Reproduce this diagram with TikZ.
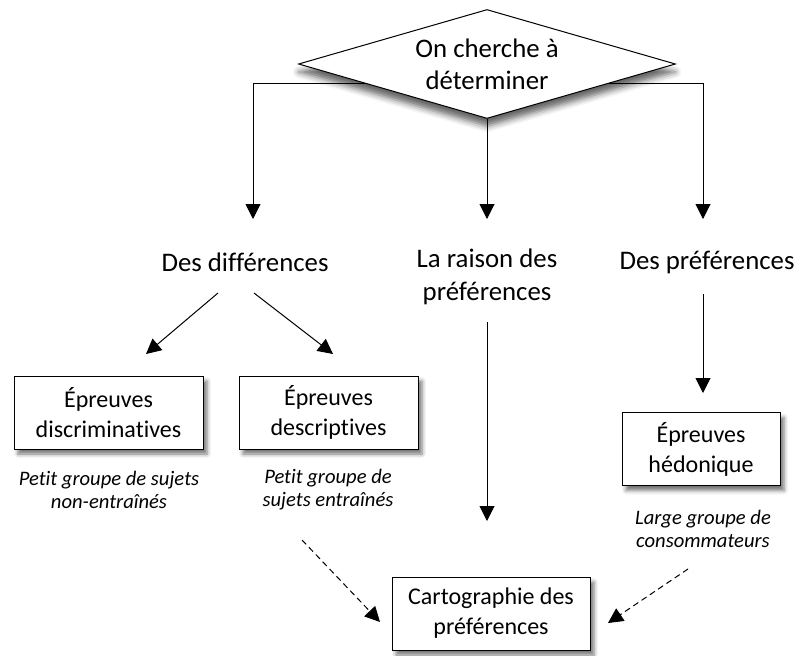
\documentclass[tikz,border=0pt]{standalone}
\usepackage{fontspec}
\setmainfont{Carlito}[Ligatures={NoCommon}]
\usetikzlibrary{shapes.geometric,arrows.meta,shadows.blur}
\begin{document}
\begin{tikzpicture}[x=1pt,y=-1pt,
  conn/.style={line width=1pt},
  arr/.style={line width=1pt,-{Triangle[width=15pt,length=15pt]}},
  darr/.style={line width=1pt,dash pattern=on 6pt off 4pt,-{Triangle[width=15pt,length=15pt]}},
  lbl/.style={align=center,inner sep=0pt,font=\fontsize{26.8}{33}\selectfont},
  boxnode/.style={draw,line width=1pt,fill=white,align=center,minimum height=73pt,inner sep=0pt,
    font=\fontsize{24}{30}\selectfont,
    blur shadow={shadow xshift=4pt,shadow yshift=-5pt,shadow blur radius=4pt,shadow opacity=55}},
  note/.style={align=center,inner sep=0pt,font=\fontsize{20.6}{23}\selectfont\itshape}]
\useasboundingbox (0,0) rectangle (796,656);
% branch coordinates
\coordinate (jL) at (253,83);
\coordinate (jR) at (703,83);
\draw[conn] (jL) -- (jR);
% decision
\node[draw,line width=1pt,fill=white,shape=diamond,aspect=3.46,minimum width=377pt,minimum height=109pt,inner sep=0pt,
  align=center,font=\fontsize{26.8}{32}\selectfont,
  blur shadow={shadow xshift=0pt,shadow yshift=-8pt,shadow blur radius=6pt,shadow opacity=60}]
  (top) at (487,64) {On cherche à\\déterminer};
% labels
\node[lbl] (difL) at (245,262) {Des différences};
\node[lbl] (rais) at (487,277) {La raison des\\préférences};
\node[lbl] (prefL) at (707,262) {Des préférences};
% boxes
\node[boxnode,minimum width=189pt] (disc) at (108.5,412.5) {Épreuves\\discriminatives};
\node[boxnode,minimum width=179pt] (desc) at (328.5,412.5) {Épreuves\\descriptives};
\node[boxnode,minimum width=158pt] (hedo) at (701,449) {Épreuves\\hédonique};
\node[boxnode,minimum width=198pt] (carto) at (491,613.5) {Cartographie des\\préférences};
% notes
\node[note] (n1) at (109,490) {Petit groupe de sujets\\non-entraînés};
\node[note] (n2) at (328,490) {Petit groupe de\\sujets entraînés};
\node[note] (n3) at (703,529) {Large groupe de\\consommateurs};
% arrow ends
\coordinate (tL) at (253,219);
\coordinate (tM) at (487,219);
\coordinate (tR) at (703,219);
\draw[arr] (jL) -- (tL);
\draw[arr] (top.south) -- (tM);
\draw[arr] (jR) -- (tR);
\coordinate (d1s) at (218,293);
\coordinate (d1e) at (146,354);
\coordinate (d2s) at (254,293);
\coordinate (d2e) at (333,354);
\draw[arr] (d1s) -- (d1e);
\draw[arr] (d2s) -- (d2e);
\coordinate (ms) at (487,322);
\coordinate (me) at (487,521);
\draw[arr] (ms) -- (me);
\coordinate (rs) at (703,294);
\coordinate (re) at (703,393);
\draw[arr] (rs) -- (re);
\coordinate (ls) at (302,540);
\coordinate (le) at (380,622);
\draw[darr] (ls) -- (le);
\coordinate (rrs) at (688,569);
\coordinate (rre) at (608,623);
\draw[darr] (rrs) -- (rre);
\end{tikzpicture}
\end{document}
